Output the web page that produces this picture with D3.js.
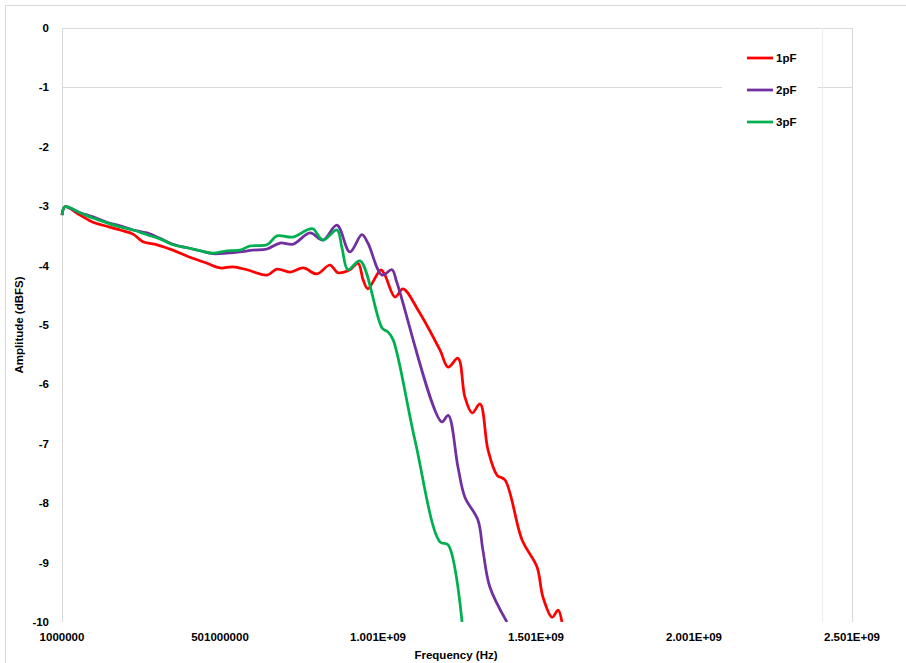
<!DOCTYPE html>
<html>
<head>
<meta charset="utf-8">
<script src="https://cdn.jsdelivr.net/npm/d3@7"></script>
<style>
  body { margin: 0; background: #fff; }
  text { font-family: "Liberation Sans", Arial, sans-serif; font-weight: bold; font-size: 11.5px; fill: #000; }
</style>
</head>
<body>
<div id="chart"></div>
<script>
// frequency in MHz, amplitude in dBFS
var freq1pF = [1, 10.5, 58, 99, 131, 185, 226, 257, 302, 352, 406, 460, 501, 542, 586, 650, 681, 723, 764, 808, 849, 874, 912, 938, 954, 969, 1010, 1023, 1055, 1080, 1128, 1197, 1223, 1254, 1276, 1299, 1324, 1349, 1378, 1403, 1457, 1504, 1523, 1552, 1571, 1583];
var amp1pF = [-3.15, -3.01, -3.15, -3.27, -3.32, -3.40, -3.47, -3.60, -3.65, -3.74, -3.86, -3.96, -4.04, -4.02, -4.07, -4.16, -4.06, -4.11, -4.04, -4.14, -3.99, -4.12, -4.07, -3.96, -4.24, -4.39, -4.07, -4.16, -4.53, -4.39, -4.75, -5.42, -5.71, -5.56, -6.21, -6.48, -6.33, -7.10, -7.53, -7.61, -8.62, -9.07, -9.58, -9.92, -9.80, -10.0];

var freq2pF = [1, 10.5, 58, 99, 143, 185, 226, 270, 311, 352, 397, 438, 479, 523, 564, 605, 650, 691, 732, 786, 827, 871, 912, 950, 969, 1014, 1045, 1061, 1203, 1223, 1254, 1276, 1317, 1333, 1355, 1409];
var amp2pF = [-3.15, -3.01, -3.11, -3.18, -3.27, -3.33, -3.40, -3.45, -3.54, -3.64, -3.70, -3.75, -3.80, -3.79, -3.77, -3.74, -3.72, -3.62, -3.64, -3.45, -3.57, -3.32, -3.77, -3.48, -3.62, -4.16, -4.07, -4.29, -6.63, -6.52, -7.39, -7.90, -8.28, -8.79, -9.41, -10.0];

var freq3pF = [1, 10.5, 58, 99, 143, 185, 226, 270, 311, 352, 397, 438, 479, 523, 564, 596, 650, 681, 732, 776, 795, 827, 871, 887, 906, 944, 1014, 1033, 1049, 1118, 1197, 1223, 1267];
var amp3pF = [-3.15, -3.01, -3.11, -3.20, -3.28, -3.35, -3.40, -3.48, -3.55, -3.65, -3.70, -3.75, -3.79, -3.75, -3.74, -3.67, -3.65, -3.50, -3.52, -3.40, -3.38, -3.57, -3.40, -3.70, -4.07, -3.92, -5.05, -5.12, -5.25, -6.94, -8.65, -8.70, -10.0];

var seriesNames = ["1pF", "2pF", "3pF"];
var seriesColors = ["#ff0000", "#7030a0", "#00b050"];

var xTickValues = [1, 501, 1001, 1501, 2001, 2501];
var xTickLabels = ["1000000", "501000000", "1.001E+09", "1.501E+09", "2.001E+09", "2.501E+09"];
var yTickValues = [0, -1, -2, -3, -4, -5, -6, -7, -8, -9, -10];
var yGridValues = [0, -1];
var xGridValues = [2406, 2501];

var svgWidth = 906, svgHeight = 663;
var margin = { top: 28, right: 54, bottom: 41, left: 62 };
var chartWidth = svgWidth - margin.left - margin.right;
var chartHeight = svgHeight - margin.top - margin.bottom;

var svg = d3.select("#chart").append("svg")
    .attr("width", svgWidth)
    .attr("height", svgHeight);

// chart area border
svg.append("rect")
    .attr("x", 5.5).attr("y", 5.5)
    .attr("width", 930).attr("height", 700)
    .style("fill", "none").style("stroke", "#d9d9d9");

var chartGroup = svg.append("g")
    .attr("transform", `translate(${margin.left}, ${margin.top})`);

var xScale = d3.scaleLinear().domain([1, 2501]).range([0, chartWidth]);
var yScale = d3.scaleLinear().domain([-10, 0]).range([chartHeight, 0]);

// gridlines
chartGroup.selectAll(".hgrid").data(yGridValues).enter().append("line")
    .attr("x1", 0).attr("x2", chartWidth)
    .attr("y1", d => Math.round(yScale(d)) + 0.5).attr("y2", d => Math.round(yScale(d)) + 0.5)
    .style("stroke", "#d9d9d9");

chartGroup.selectAll(".vgrid").data(xGridValues).enter().append("line")
    .attr("x1", d => Math.round(xScale(d)) + 0.5).attr("x2", d => Math.round(xScale(d)) + 0.5)
    .attr("y1", 0).attr("y2", chartHeight)
    .style("stroke", d => d == 2501 ? "#d9d9d9" : "#ececec");

// y axis line
chartGroup.append("line")
    .attr("x1", 0.5).attr("x2", 0.5)
    .attr("y1", 0).attr("y2", chartHeight)
    .style("stroke", "#d9d9d9");

// y tick labels
chartGroup.selectAll(".ylab").data(yTickValues).enter().append("text")
    .attr("x", -13)
    .attr("y", d => yScale(d))
    .attr("dy", "0.35em")
    .attr("text-anchor", "end")
    .text(d => d);

// x tick labels
chartGroup.selectAll(".xlab").data(xTickValues).enter().append("text")
    .attr("x", d => xScale(d))
    .attr("y", chartHeight + 19)
    .attr("text-anchor", "middle")
    .text((d, i) => xTickLabels[i]);

// axis titles
svg.append("text")
    .attr("transform", "translate(23, 325) rotate(-90)")
    .attr("text-anchor", "middle")
    .text("Amplitude (dBFS)");

svg.append("text")
    .attr("x", 456).attr("y", 659)
    .attr("text-anchor", "middle")
    .text("Frequency (Hz)");

// clip to plot area
chartGroup.append("clipPath").attr("id", "plotclip")
    .append("rect").attr("x", -5).attr("y", -5)
    .attr("width", chartWidth + 10).attr("height", chartHeight + 5);

var seriesData = [
    d3.zip(freq1pF, amp1pF),
    d3.zip(freq2pF, amp2pF),
    d3.zip(freq3pF, amp3pF)
];

var line = d3.line()
    .x(d => xScale(d[0]))
    .y(d => yScale(d[1]))
    .curve(d3.curveCatmullRom.alpha(0.5));

var plot = chartGroup.append("g").attr("clip-path", "url(#plotclip)");

seriesData.forEach(function (data, i) {
    plot.append("path")
        .datum(data)
        .attr("d", line)
        .style("fill", "none")
        .style("stroke", seriesColors[i])
        .style("stroke-width", 2.75)
        .style("stroke-linejoin", "round");
});

// legend
var legend = svg.append("g");
legend.append("rect")
    .attr("x", 722).attr("y", 40)
    .attr("width", 96).attr("height", 96)
    .style("fill", "#fff");

seriesNames.forEach(function (name, i) {
    var ly = 58 + i * 32;
    legend.append("line")
        .attr("x1", 747).attr("x2", 773)
        .attr("y1", ly).attr("y2", ly)
        .style("stroke", seriesColors[i])
        .style("stroke-width", 2.75);
    legend.append("text")
        .attr("x", 776).attr("y", ly)
        .attr("dy", "0.35em")
        .text(name);
});
</script>
</body>
</html>
